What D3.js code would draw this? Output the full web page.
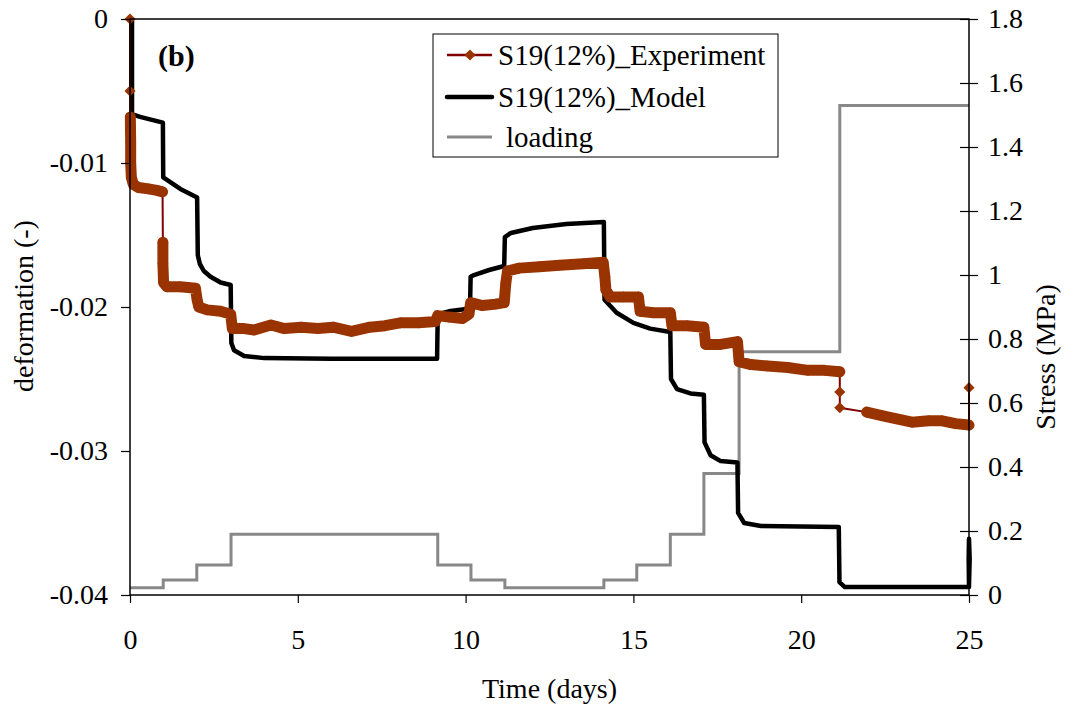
<!DOCTYPE html>
<html><head><meta charset="utf-8">
<script src="https://cdn.jsdelivr.net/npm/d3@7"></script>
<style>body{margin:0;background:#fff}svg text{font-family:"Liberation Serif","Times New Roman",serif;}</style>
</head><body><svg id="c" width="1076" height="708"></svg>
<script>
const xTicks=[0,5,10,15,20,25];
const yLeftTicks=[0,-0.01,-0.02,-0.03,-0.04];
const yRightTicks=[0,0.2,0.4,0.6,0.8,1,1.2,1.4,1.6,1.8];
const seriesNames=["S19(12%)_Experiment","S19(12%)_Model","loading"];

// loading steps (start time of each level, stress in MPa)
const loadTimes=[0,0.99,1.99,3.01,9.17,10.16,11.17,14.12,15.1,16.1,17.1,18.15,21.15,25];
const loadStress=[0.023,0.047,0.094,0.19,0.094,0.047,0.023,0.047,0.094,0.19,0.38,0.76,1.53,1.53];

// model deformation [time, deformation]
const modelPoints=[[0.06,0],[0.06,-0.0066],[0.3,-0.0068],[0.98,-0.0072],[0.99,-0.0110],[1.5,-0.0118],[2.0,-0.0124],
[2.02,-0.0164],[2.08,-0.0170],[2.2,-0.0175],[2.4,-0.0179],[2.7,-0.0183],[3.0,-0.01847],[3.02,-0.0225],[3.1,-0.0230],[3.4,-0.0234],
[4.0,-0.02355],[6.0,-0.0236],[9.15,-0.0236],[9.17,-0.0205],[9.5,-0.0203],[10.13,-0.0201],[10.15,-0.0179],[10.25,-0.01778],
[10.7,-0.01743],[11.15,-0.01715],[11.17,-0.01514],[11.35,-0.01486],[12.0,-0.01451],[13.0,-0.01424],[14.12,-0.0141],
[14.14,-0.0195],[14.5,-0.0204],[15.0,-0.0211],[15.5,-0.0215],[16.1,-0.02174],[16.12,-0.0250],[16.3,-0.0257],[16.7,-0.0260],
[17.1,-0.0261],[17.12,-0.0294],[17.3,-0.0303],[17.6,-0.0307],[18.1,-0.0308],[18.12,-0.0343],[18.3,-0.0350],[18.8,-0.03521],
[21.12,-0.03528],[21.14,-0.0391],[21.3,-0.03945],[25.0,-0.03945],[24.99,-0.0375],[25.0,-0.0361],[25.02,-0.0375],[25.0,-0.0393]];

// experiment deformation, in continuous logging runs [time, deformation]
const experimentRuns=[
 [[0,0]],
 [[0,-0.005]],
 [[0.01,-0.0068],[0.02,-0.0085],[0.02,-0.0100],[0.04,-0.0110],[0.1,-0.0115],[0.25,-0.0117],[0.55,-0.0118],[0.8,-0.0119],[0.97,-0.0120]],
 [[0.98,-0.0155],[0.98,-0.0170],[1.0,-0.0183],[1.1,-0.0186],[1.5,-0.0186],[1.95,-0.0187],[2.0,-0.0195],[2.05,-0.0200],
  [2.3,-0.0202],[2.7,-0.0203],[3.0,-0.0205],[3.05,-0.0215],[3.4,-0.0215],[3.7,-0.0216],[4.2,-0.02125],[4.6,-0.0215],
  [5.1,-0.0214],[5.6,-0.0215],[6.05,-0.0214],[6.6,-0.0217],[7.15,-0.0214],[7.6,-0.0213],[8.05,-0.0211],[8.6,-0.0211],
  [9.1,-0.0210],[9.17,-0.0206],[9.5,-0.0207],[9.9,-0.0208],[10.1,-0.0205],[10.15,-0.0197],[10.5,-0.0199],[10.9,-0.0198],
  [11.15,-0.0197],[11.2,-0.0183],[11.25,-0.0175],[11.6,-0.0173],[12.2,-0.0172],[12.8,-0.0171],[13.5,-0.0170],[14.1,-0.0169],
  [14.15,-0.0179],[14.18,-0.0188],[14.3,-0.0193],[14.7,-0.0193],[15.15,-0.0193],[15.2,-0.0203],[15.6,-0.0204],[16.1,-0.0204],
  [16.15,-0.0213],[16.6,-0.0213],[17.1,-0.0214],[17.15,-0.0226],[17.6,-0.0226],[18.1,-0.0224],[18.15,-0.0238],[18.5,-0.0240],
  [19.0,-0.0241],[19.6,-0.0242],[20.2,-0.0244],[20.7,-0.0244],[21.15,-0.0245]],
 [[21.15,-0.0259]],
 [[21.15,-0.0270]],
 [[21.95,-0.0273],[22.5,-0.0276],[23.3,-0.0280],[23.8,-0.0279],[24.2,-0.0279],[24.6,-0.0281],[25.0,-0.0282]],
 [[25.0,-0.0256]]
];

const svg=d3.select("#c");
const L=130,R=969,T=19,B=595;
const x=d3.scaleLinear().domain([0,25]).range([L,R]);
const yL=d3.scaleLinear().domain([-0.04,0]).range([B,T]);
const yR=d3.scaleLinear().domain([0,1.8]).range([B,T]);
const FS=28;

// loading
const loadData=loadTimes.map((t,i)=>[t,loadStress[i]]);
svg.append("path").datum(loadData)
 .attr("d",d3.line().x(d=>x(d[0])).y(d=>yR(d[1])).curve(d3.curveStepAfter))
 .attr("fill","none").attr("stroke","#888").attr("stroke-width",3);

// model
svg.append("path").datum(modelPoints)
 .attr("d",d3.line().x(d=>x(d[0])).y(d=>yL(d[1])))
 .attr("fill","none").attr("stroke","#000").attr("stroke-width",4.5).attr("stroke-linejoin","round");

// experiment
const allExp=experimentRuns.flat();
const eLine=d3.line().x(d=>x(d[0])).y(d=>yL(d[1]));
svg.append("path").datum(allExp).attr("d",eLine)
 .attr("fill","none").attr("stroke","#800000").attr("stroke-width",2);
experimentRuns.filter(r=>r.length>1).forEach(r=>{
 svg.append("path").datum(r).attr("d",eLine)
  .attr("fill","none").attr("stroke","#993300").attr("stroke-width",11)
  .attr("stroke-linejoin","round").attr("stroke-linecap","round");
});
const diamond=d3.symbol(d3.symbolSquare,62)();
svg.append("g").selectAll("path").data(allExp).join("path")
 .attr("d",diamond).attr("fill","#993300")
 .attr("transform",d=>`translate(${x(d[0])},${yL(d[1])}) rotate(45)`);

// frame
svg.append("rect").attr("x",L).attr("y",T).attr("width",R-L).attr("height",B-T)
 .attr("fill","none").attr("stroke","#000").attr("stroke-width",1.5);

// axes
const gL=svg.append("g").attr("transform",`translate(${L},0)`)
 .call(d3.axisLeft(yL).tickValues(yLeftTicks).tickSize(9).tickSizeOuter(0).tickPadding(13).tickFormat(d=>String(d)));
const gR=svg.append("g").attr("transform",`translate(${R},0)`)
 .call(d3.axisRight(yR).tickValues(yRightTicks).tickSize(9).tickSizeOuter(0).tickPadding(10).tickFormat(d=>String(d)));
gR.selectAll(".tick line").attr("x1",-9).attr("x2",9);
const gB=svg.append("g").attr("transform",`translate(0,${B})`)
 .call(d3.axisBottom(x).tickValues(xTicks).tickSize(8).tickSizeOuter(0).tickFormat(d=>String(d)));
gB.selectAll(".tick text").attr("y",54).attr("dy",null);
[gL,gR,gB].forEach(g=>{
 g.select(".domain").remove();
 g.selectAll(".tick line").attr("stroke","#000").attr("stroke-width",1.2);
 g.selectAll(".tick text").attr("font-size",FS).attr("fill","#000")
  .attr("font-family","'Liberation Serif','Times New Roman',serif");
});

// axis titles
svg.append("text").attr("x",(L+R)/2).attr("y",698).attr("text-anchor","middle").attr("font-size",FS).text("Time (days)");
svg.append("text").attr("transform","translate(33,306) rotate(-90)").attr("text-anchor","middle").attr("font-size",FS).text("deformation (-)");
svg.append("text").attr("transform","translate(1055,357) rotate(-90)").attr("text-anchor","middle").attr("font-size",FS).text("Stress (MPa)");
svg.append("text").attr("x",158).attr("y",66).attr("font-size",30).attr("font-weight","bold").text("(b)");

// legend
const lg=svg.append("g");
lg.append("rect").attr("x",433).attr("y",34).attr("width",345).attr("height",123)
 .attr("fill","#fff").attr("stroke","#000").attr("stroke-width",1);
const rows=[55,97,137];
lg.append("line").attr("x1",447).attr("x2",492).attr("y1",rows[0]).attr("y2",rows[0]).attr("stroke","#800000").attr("stroke-width",2.5);
lg.append("path").attr("d",diamond).attr("fill","#993300").attr("transform",`translate(470,${rows[0]}) rotate(45)`);
lg.append("line").attr("x1",447).attr("x2",492).attr("y1",rows[1]).attr("y2",rows[1]).attr("stroke","#000").attr("stroke-width",4.5).attr("stroke-linecap","round");
lg.append("line").attr("x1",447).attr("x2",492).attr("y1",rows[2]).attr("y2",rows[2]).attr("stroke","#888").attr("stroke-width",3);
seriesNames.forEach((n,i)=>{
 lg.append("text").attr("x",i===2?506:498).attr("y",rows[i]+10).attr("font-size",29).text(n);
});
</script></body></html>
